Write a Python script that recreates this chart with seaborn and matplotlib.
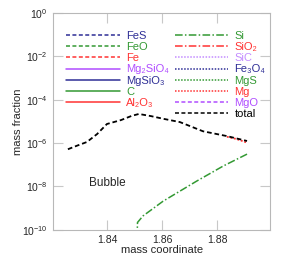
"""
Bubble composition: mass fraction vs mass coordinate
"""

import numpy as np
import pandas as pd
import matplotlib
matplotlib.use("Agg")
import matplotlib.pyplot as plt
from matplotlib.lines import Line2D
import seaborn as sns

sns.set_style("ticks")
plt.rcParams["font.family"] = ["Liberation Sans", "DejaVu Sans"]
plt.rcParams["mathtext.fontset"] = "custom"
plt.rcParams["mathtext.rm"] = "Liberation Sans"
plt.rcParams["mathtext.it"] = "Liberation Sans:italic"
plt.rcParams["mathtext.default"] = "regular"

# --- data ---
total_x = [1.8258, 1.8290, 1.8327, 1.8364, 1.8400, 1.8451, 1.8490, 1.8516,
           1.8560, 1.8607, 1.8665, 1.8749, 1.8836, 1.8909]
total_y = [5.2e-7, 7.5e-7, 1.12e-6, 2.6e-6, 7.6e-6, 1.15e-5, 1.8e-5, 2.2e-5,
           1.75e-5, 1.3e-5, 9.3e-6, 3.5e-6, 2.1e-6, 1.25e-6]

si_x = [1.8508, 1.8511, 1.8531, 1.8604, 1.8727, 1.8822, 1.8909]
si_y = [1e-11, 2.2e-10, 4.4e-10, 2.1e-9, 1.8e-8, 8.7e-8, 3.1e-7]

mg_x = [1.8836, 1.8870, 1.8909]
mg_y = [1.95e-6, 1.55e-6, 1.05e-6]

BLUE = "#2e2e96"
GREEN = "#339933"
RED = "#ff3333"
PURPLE = "#b04dff"
LPURPLE = "#c38cff"

DASH = (0, (2.6, 1.6))
DASHDOT = (0, (5, 1.5, 1, 1.5))
DOT = (0, (1, 1))

# legend entries: (label, colour, linestyle)
legend_left = [
    ("FeS", BLUE, DASH),
    ("FeO", GREEN, DASH),
    ("Fe", RED, DASH),
    ("Mg₂SiO₄", PURPLE, "-"),
    ("MgSiO₃", BLUE, "-"),
    ("C", GREEN, "-"),
    ("Al₂O₃", RED, "-"),
]
legend_right = [
    ("Si", GREEN, DASHDOT),
    ("SiO₂", RED, DASHDOT),
    ("SiC", LPURPLE, DOT),
    ("Fe₃O₄", BLUE, DOT),
    ("MgS", GREEN, DOT),
    ("Mg", RED, DOT),
    ("MgO", PURPLE, DASH),
    ("total", "black", DASH),
]

fig = plt.figure(figsize=(2.93, 2.58), dpi=100)
ax = fig.add_axes([0.181, 0.109, 0.741, 0.841])

sns.lineplot(x=mg_x, y=mg_y, color=RED, linestyle=DOT, linewidth=1.3, ax=ax)
sns.lineplot(x=total_x, y=total_y, color="black", linestyle=DASH, linewidth=1.3, ax=ax)
sns.lineplot(x=si_x, y=si_y, color=GREEN, linestyle=DASHDOT, linewidth=1.1, ax=ax)

ax.set_yscale("log")
ax.set_ylim(1e-10, 1)
ax.set_xlim(1.8204, 1.8993)
ax.set_yticks([1e-10, 1e-8, 1e-6, 1e-4, 1e-2, 1e0])
ax.yaxis.set_minor_locator(matplotlib.ticker.NullLocator())
ax.set_xticks([1.84, 1.86, 1.88])
ax.set_xticklabels(["1.84", "1.86", "1.88"])

ax.tick_params(direction="in", length=7, width=0.8, color="#c8c8c8",
               labelsize=7.5, top=True, right=True, pad=4)
for s in ax.spines.values():
    s.set_color("#b8b8b8")
    s.set_linewidth(0.8)

ax.set_xlabel("mass coordinate", fontsize=8, labelpad=0)
ax.set_ylabel("mass fraction", fontsize=8, labelpad=-1)

ax.text(1.8400, 1.4e-8, "Bubble", fontsize=8.5, ha="center", va="center")

# legend: two columns, blank slot at end of the left one
handles, labels, colors = [], [], []
for lab, c, ls in legend_left:
    handles.append(Line2D([], [], color=c, linestyle=ls, linewidth=1.1))
    labels.append(lab)
    colors.append(c)
handles.append(Line2D([], [], color="none"))
labels.append("")
colors.append("none")
for lab, c, ls in legend_right:
    handles.append(Line2D([], [], color=c, linestyle=ls, linewidth=1.1))
    labels.append(lab)
    colors.append(c)

leg = ax.legend(handles, labels, ncol=2, loc="upper left",
                bbox_to_anchor=(0.062, 0.916), frameon=False, fontsize=8,
                handlelength=4.8, handletextpad=0.55, columnspacing=0.55,
                labelspacing=0.1, borderpad=0, borderaxespad=0)
for txt, c in zip(leg.get_texts(), colors):
    txt.set_color(c)

fig.savefig("out.png", dpi=100)
